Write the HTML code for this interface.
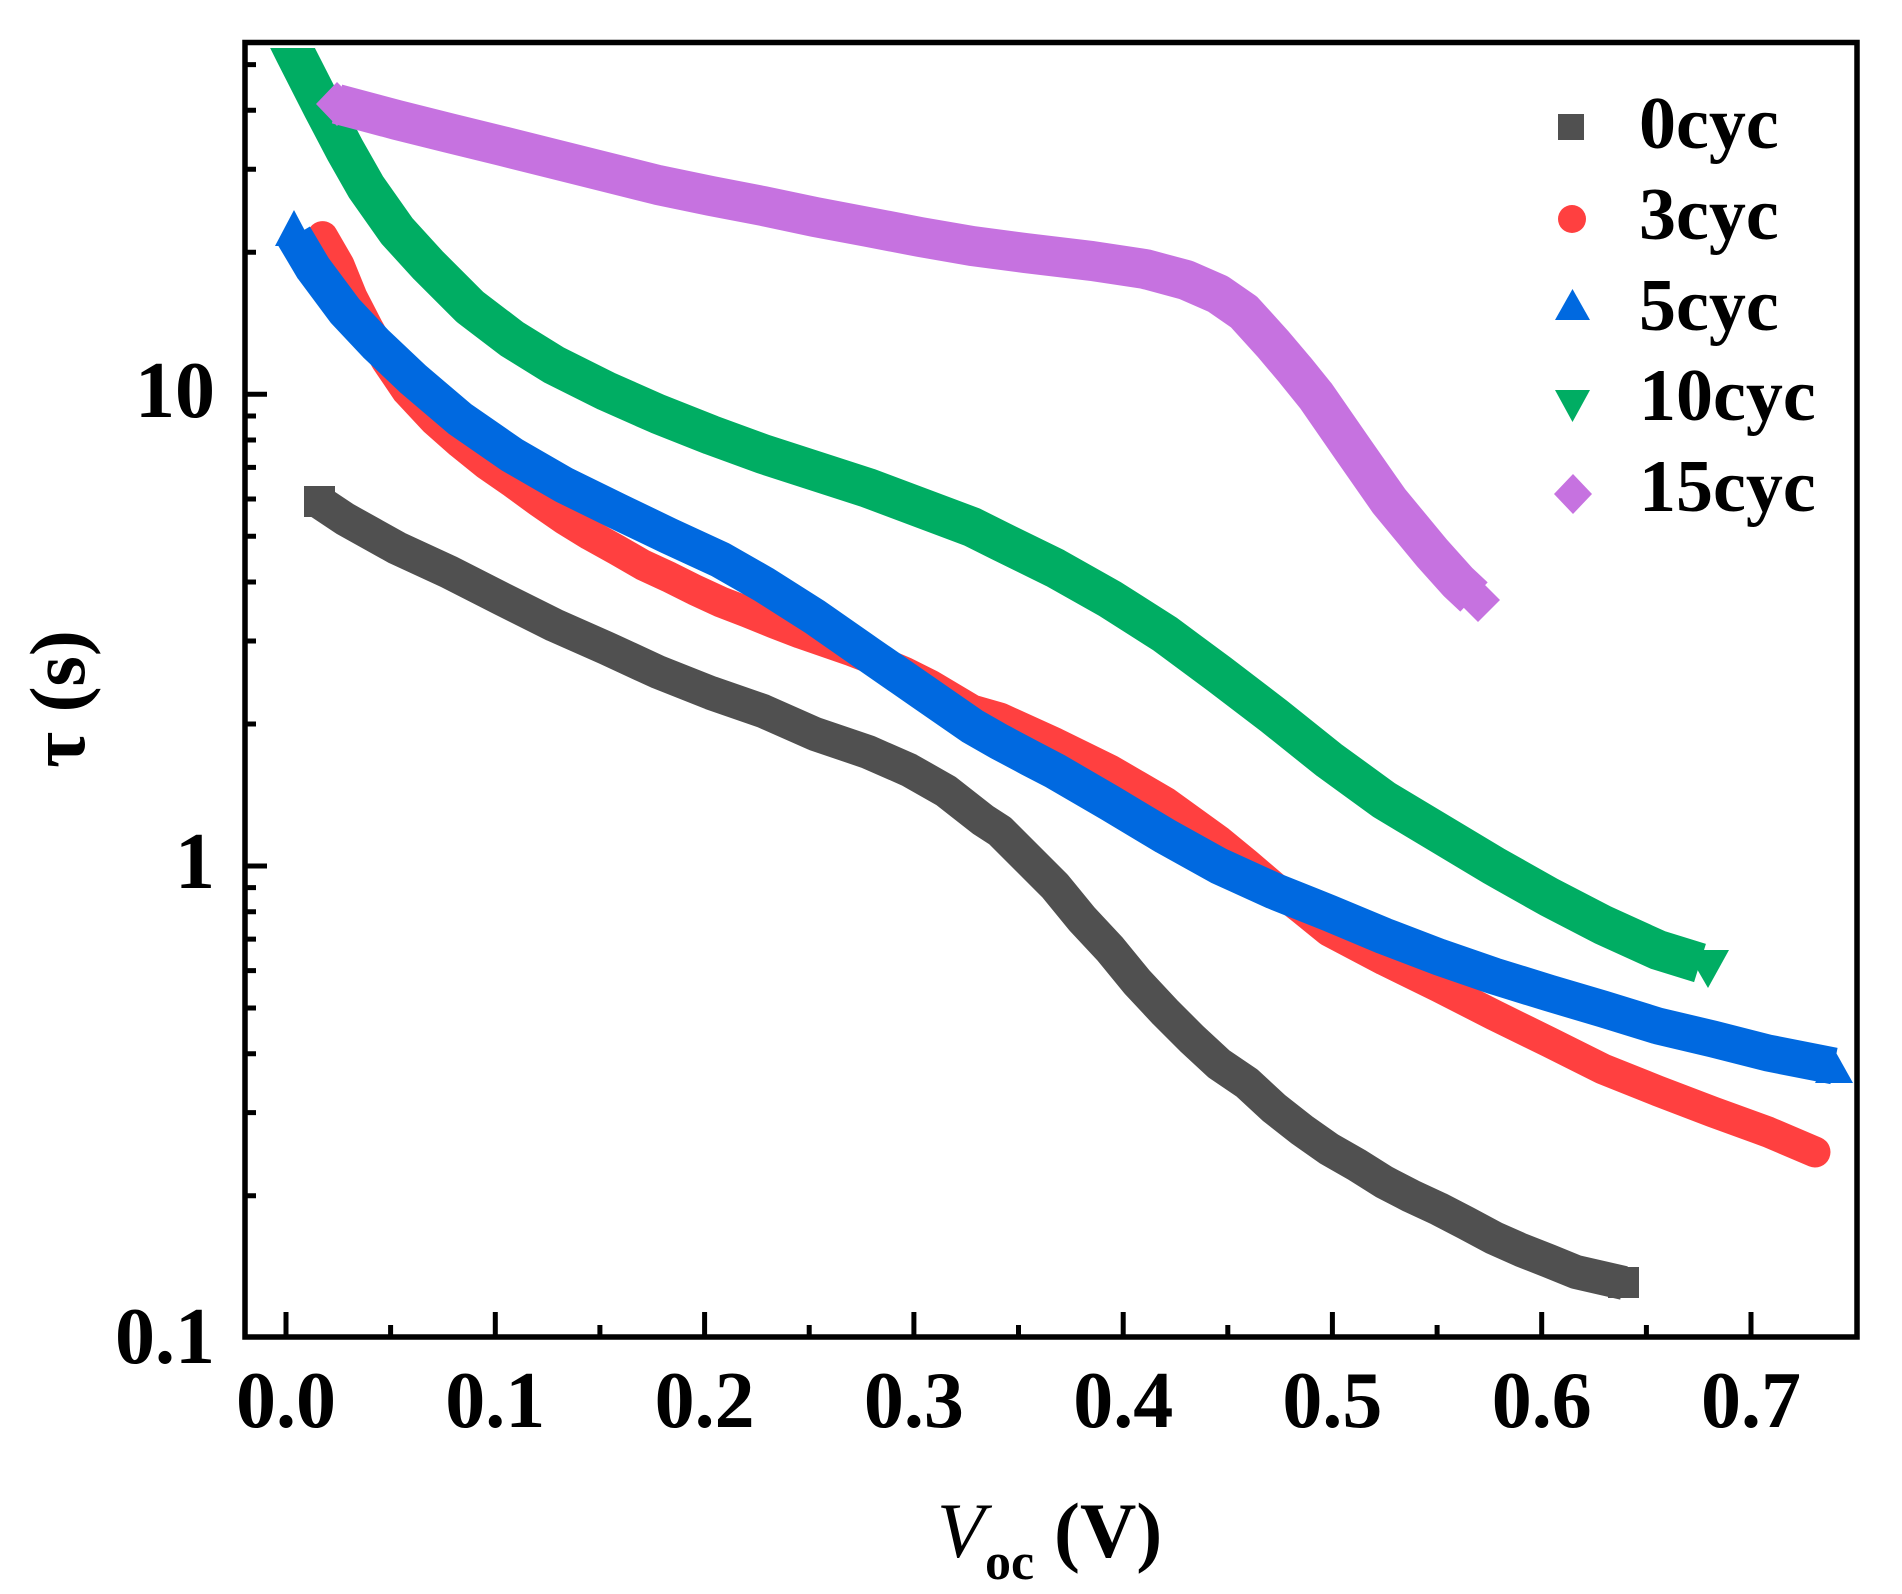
<!DOCTYPE html>
<html>
<head>
<meta charset="utf-8">
<style>
  html, body { margin: 0; padding: 0; background: #ffffff; }
  svg { display: block; }
  text { font-family: "Liberation Serif", "DejaVu Serif", serif; fill: #000; }
</style>
</head>
<body>
<svg width="1902" height="1594" viewBox="0 0 1902 1594" xmlns="http://www.w3.org/2000/svg">
  <rect x="0" y="0" width="1902" height="1594" fill="#ffffff"/>
  <defs>
    <clipPath id="plot">
      <rect x="247.5" y="48" width="1607" height="1287"/>
    </clipPath>
  </defs>

  <g clip-path="url(#plot)" fill="none" stroke-linejoin="round">
    <!-- 0cyc (dark grey squares) -->
    <polyline stroke="#505050" stroke-width="34" stroke-linecap="butt"
      points="319.5,502 345,519 397,548 449,572 502,599 554,625 606,648 658,672 711,693 763,711 815,734 868,752 909,770 946,791 983,820 1000,831 1027,858 1055,886 1082,919 1110,949 1137,982 1165,1012 1192,1039 1219,1064 1247,1083 1274,1108 1302,1130 1329,1149 1357,1165 1384,1182 1411,1196 1439,1209 1466,1223 1494,1238 1521,1250 1549,1261 1576,1272 1624,1283"/>
    <rect x="304" y="486" width="31" height="31" fill="#505050"/>
    <rect x="1608" y="1267" width="31" height="31" fill="#505050"/>

    <!-- 3cyc (red circles) -->
    <polyline stroke="#FF4040" stroke-width="31" stroke-linecap="round"
      points="322.6,236.6 339,265 352,297 368,328 386,360 407,391 434,420 460,443 486,464 512,482 538,501 564,519 590,535 617,550 643,565 669,577 695,590 721,602 747,612 774,623 800,633 826,642 852,651 878,661 904,672 930,685 972,710 1000,718 1055,743 1110,770 1165,802 1219,841 1247,864 1274,887 1302,909 1329,931 1384,960 1439,987 1494,1015 1549,1042 1603,1069 1658,1091 1713,1112 1768,1132 1815,1152"/>

    <!-- 5cyc (blue up triangles) -->
    <polyline stroke="#0069E0" stroke-width="37" stroke-linecap="butt"
      points="294,236 313,268 345,311 376,344 413,379 460,419 512,455 564,485 617,511 669,536 721,560 763,584 815,617 868,654 920,690 972,726 1000,742 1030,758 1055,771 1110,803 1165,836 1219,866 1274,891 1329,913 1384,936 1439,957 1494,976 1549,993 1603,1009 1658,1026 1713,1039 1768,1053 1834,1066"/>
    <polygon fill="#0069E0" points="294,210 275,246 313,246"/>
    <polygon fill="#0069E0" points="1815,1083 1853,1083 1834,1049"/>

    <!-- 10cyc (green down triangles) -->
    <polyline stroke="#00AD63" stroke-width="40" stroke-linecap="butt"
      points="284,31 295,53 323,108 345,150 366,187 397,231 428,265 470,307 512,339 554,365 606,391 658,414 711,435 763,454 868,488 972,527 1000,541 1055,568 1110,599 1165,634 1219,674 1274,716 1329,760 1384,800 1439,833 1494,866 1549,897 1603,925 1658,950 1700,963"/>
    <polygon fill="#00AD63" points="1686,950 1729,950 1708,988"/>

    <!-- 15cyc (purple diamonds) -->
    <polyline stroke="#C672E0" stroke-width="40" stroke-linecap="butt"
      points="337,104 397,120 449,133 502,146 554,159 606,172 658,185 711,196 763,206 815,217 868,227 920,237 972,246 1025,253 1092,261 1145,269 1186,280 1218,294 1244,312 1273,344 1295,370 1316,396 1352,448 1389,501 1432,553 1458,582 1474,597"/>
    <polygon fill="#C672E0" points="316,104 337,82 359,104 337,126"/>
    <polygon fill="#C672E0" points="1456,600 1478,578 1500,600 1478,622"/>
  </g>

  <!-- Frame -->
  <rect x="245" y="42.5" width="1612" height="1294.5" fill="none" stroke="#000" stroke-width="5.5"/>

  <!-- Left axis ticks -->
  <g stroke="#000" stroke-width="5" fill="none">
    <path d="M245 866 H267 M245 394.3 H267"/>
    <path d="M245 1195.7 H256 M245 1112.6 H256 M245 1053.7 H256 M245 1008 H256 M245 970.6 H256 M245 939.1 H256 M245 911.7 H256 M245 887.6 H256"/>
    <path d="M245 724 H256 M245 641 H256 M245 582 H256 M245 536.3 H256 M245 499 H256 M245 467.4 H256 M245 440 H256 M245 416 H256"/>
    <path d="M245 252.3 H256 M245 169.3 H256 M245 110.3 H256 M245 64.6 H256"/>
    <!-- Bottom axis ticks -->
    <path d="M286 1337 V1312 M495.3 1337 V1312 M704.6 1337 V1312 M913.9 1337 V1312 M1123.2 1337 V1312 M1332.4 1337 V1312 M1541.7 1337 V1312 M1751 1337 V1312"/>
    <path d="M390.6 1337 V1325 M599.9 1337 V1325 M809.2 1337 V1325 M1018.5 1337 V1325 M1227.8 1337 V1325 M1437.1 1337 V1325 M1646.4 1337 V1325"/>
  </g>

  <!-- Y tick labels -->
  <g font-size="80" font-weight="bold" text-anchor="end">
    <text x="215" y="417">10</text>
    <text x="215" y="888">1</text>
    <text x="215" y="1363">0.1</text>
  </g>

  <!-- X tick labels -->
  <g font-size="80" font-weight="bold" text-anchor="middle">
    <text x="286" y="1427">0.0</text>
    <text x="495.3" y="1427">0.1</text>
    <text x="704.6" y="1427">0.2</text>
    <text x="913.9" y="1427">0.3</text>
    <text x="1123.2" y="1427">0.4</text>
    <text x="1332.4" y="1427">0.5</text>
    <text x="1541.7" y="1427">0.6</text>
    <text x="1751" y="1427">0.7</text>
  </g>

  <!-- Axis titles -->
  <text transform="translate(84,699) rotate(-90)" text-anchor="middle" font-size="78" font-weight="bold">τ (s)</text>
  <text x="937" y="1557" font-size="78" font-style="italic">V</text>
  <text x="985" y="1579" font-size="52" font-weight="bold">oc</text>
  <text x="1054" y="1557" font-size="78" font-weight="bold">(V)</text>

  <!-- Legend -->
  <rect x="1558" y="114" width="26" height="26" fill="#505050"/>
  <circle cx="1572" cy="219" r="14" fill="#FF4040"/>
  <polygon fill="#0069E0" points="1555,320 1590,320 1572.5,289"/>
  <polygon fill="#00AD63" points="1555,390 1590,390 1572.5,422"/>
  <polygon fill="#C672E0" points="1573,474 1592,494 1573,514 1554,494"/>
  <g font-size="74" font-weight="bold">
    <text x="1639" y="148">0cyc</text>
    <text x="1639" y="239">3cyc</text>
    <text x="1639" y="330">5cyc</text>
    <text x="1639" y="420">10cyc</text>
    <text x="1639" y="511">15cyc</text>
  </g>
</svg>
</body>
</html>
